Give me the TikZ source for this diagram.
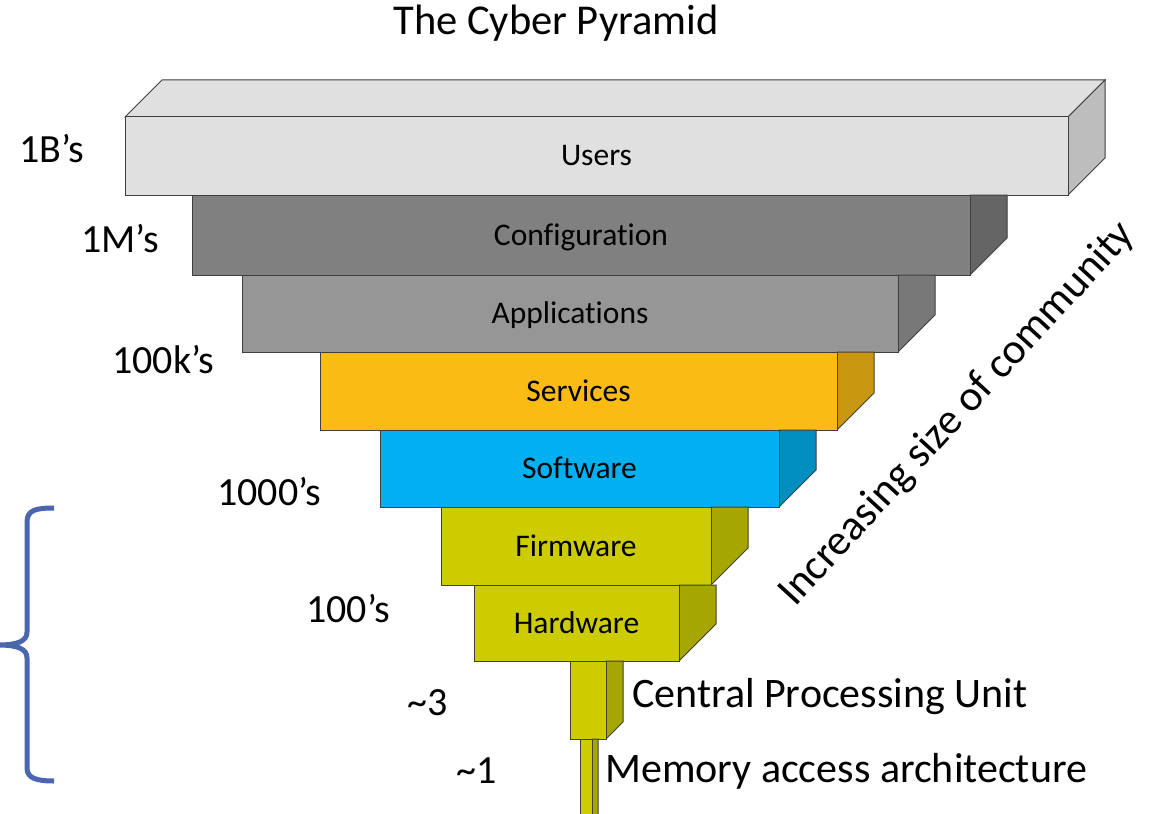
\documentclass[tikz,border=0pt]{standalone}
\usepackage{fontspec}
\setmainfont{Carlito}[Ligatures={NoCommon}]
\definecolor{edge}{HTML}{3F3F3F}
\definecolor{usrF}{HTML}{E0E0E0}
\definecolor{usrS}{HTML}{BDBDBD}
\definecolor{cfgF}{HTML}{808080}
\definecolor{cfgS}{HTML}{656565}
\definecolor{appF}{HTML}{969696}
\definecolor{appS}{HTML}{787878}
\definecolor{svcF}{HTML}{FABC14}
\definecolor{svcS}{HTML}{C9970F}
\definecolor{sofF}{HTML}{00B0F0}
\definecolor{sofS}{HTML}{008EC0}
\definecolor{hwF}{HTML}{CCCC00}
\definecolor{hwS}{HTML}{A6A600}
\definecolor{brc}{HTML}{4A67AD}
\tikzset{
  face/.style={draw=edge, line width=1pt, inner sep=0pt, outer sep=0pt,
    font=\fontsize{31.5}{36}\selectfont, text height=20pt, text depth=0pt},
  sideface/.style={draw=edge, line width=1pt, line join=miter},
  lbl/.style={font=\fontsize{40}{46}\selectfont, inner sep=0pt, anchor=base west},
  biglbl/.style={font=\fontsize{42}{48}\selectfont, inner sep=0pt, anchor=base west},
}
% #1 name, #2 x1, #3 x2, #4 y1, #5 y2, #6 depth, #7 front, #8 side, #9 label
\newcommand{\pblock}[9]{%
  \filldraw[sideface, fill=#8] (#3,#4) -- ({#3+#6},#4) -- ({#3+#6},{#5-#6}) -- (#3,#5) -- cycle;
  \node[face, fill=#7, minimum width={#3-#2}, minimum height={#5-#4}] (#1) at ({(#2+#3)/2},{(#4+#5)/2}) {#9};
}
\begin{document}
\begin{tikzpicture}[x=1pt,y=-1pt]
\useasboundingbox (0,0) rectangle (1155,813);
\fill[white] (0,0) rectangle (1155,813);
\begin{scope}
\clip (0,0) rectangle (1155,813);
% title
\node[font=\fontsize{42.5}{48}\selectfont, inner sep=0pt, anchor=base] (title) at (556,35) {The Cyber Pyramid};
% Users block with top face
\filldraw[sideface, fill=usrF] (125,117) -- (162,80) -- (1105,80) -- (1068,117) -- cycle;
\filldraw[sideface, fill=usrS] (1068,117) -- (1105,80) -- (1105,158) -- (1068,195) -- cycle;
\node[face, fill=usrF, minimum width=943, minimum height=78] (users) at (596.5,156) {Users};
\pblock{config}{192}{970}{195}{275}{37}{cfgF}{cfgS}{Configuration}
\pblock{apps}{242}{898}{275}{352}{37}{appF}{appS}{Applications}
\pblock{services}{320}{837}{352}{430}{37}{svcF}{svcS}{Services}
\pblock{software}{380}{779}{430}{507}{37}{sofF}{sofS}{Software}
\pblock{firmware}{441}{711}{507}{585}{37}{hwF}{hwS}{Firmware}
\pblock{hardware}{474}{679}{585}{661}{37}{hwF}{hwS}{Hardware}
\pblock{cpu}{570}{606}{661}{739}{17}{hwF}{hwS}{}
\pblock{memory}{580}{592}{739}{830}{6}{hwF}{hwS}{}
% left labels
\node[lbl] (l1) at (19,163) {1B’s};
\node[lbl] (l2) at (81,252) {1M’s};
\node[lbl] (l3) at (112,373) {100k’s};
\node[lbl] (l4) at (217,505) {1000’s};
\node[lbl] (l5) at (306,622) {100’s};
\node[lbl] (l6) at (407,715) {\textasciitilde3};
\node[lbl] (l7) at (456,783) {\textasciitilde1};
% right labels
\node[biglbl] (cpulbl) at (632,707) {Central Processing Unit};
\node[biglbl] (memlbl) at (605,782) {Memory access architecture};
% rotated
\node[lbl, font=\fontsize{43}{48}\selectfont, rotate=47.5] (incr) at (795,608) {Increasing size of community};
% brace
\draw[brc, line width=5pt] (54,508) .. controls (36,508) and (27,510) .. (27,522) -- (27,632)
  .. controls (27,641) and (18,645) .. (-2,645)
  .. controls (18,645) and (27,649) .. (27,658) -- (27,768)
  .. controls (27,778) and (36,781) .. (54,781);
\end{scope}
\end{tikzpicture}
\end{document}
